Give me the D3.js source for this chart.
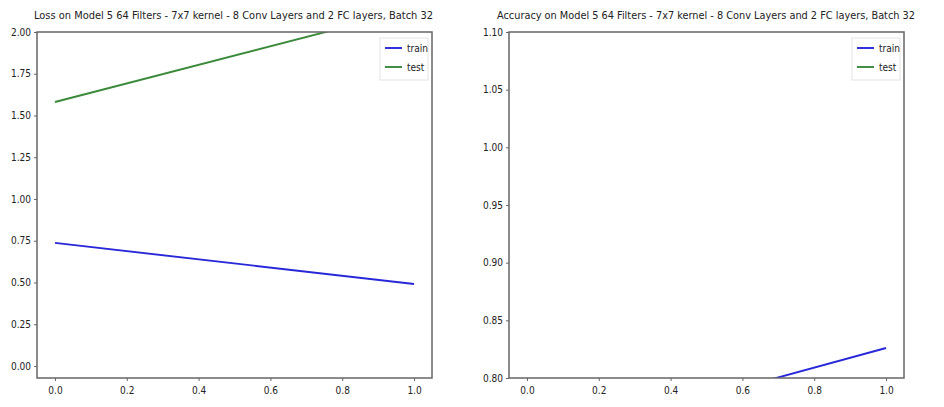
<!DOCTYPE html>
<html>
<head>
<meta charset="utf-8">
<script src="https://cdn.jsdelivr.net/npm/d3@7"></script>
<style>
  html, body { margin: 0; padding: 0; background: #fff; }
  svg { display: block; }
  text { font-family: "DejaVu Sans Condensed", "DejaVu Sans", sans-serif; fill: #222; }
</style>
</head>
<body>
<svg id="chart" width="944" height="407"></svg>
<script>
// ---- data ----
const epochs = [0, 1];
const lossTrain = [0.737, 0.491];
const lossTest = [1.581, 2.137];
const accTrain = [0.741, 0.826];
const accTest = [0.55, 0.60];
const xTicks = [0.0, 0.2, 0.4, 0.6, 0.8, 1.0];
const lossTicks = [0.00, 0.25, 0.50, 0.75, 1.00, 1.25, 1.50, 1.75, 2.00];
const accTicks = [0.80, 0.85, 0.90, 0.95, 1.00, 1.05, 1.10];
const seriesNames = ["train", "test"];
const titles = [
  "Loss on Model 5 64 Filters - 7x7 kernel - 8 Conv Layers and 2 FC layers, Batch 32",
  "Accuracy on Model 5 64 Filters - 7x7 kernel - 8 Conv Layers and 2 FC layers, Batch 32"
];

const svg = d3.select("#chart");
const colors = {train: "#2828d8", test: "#3a8a3a"};

function panel(opts) {
  const {left, right, top, bottom, xDomain, yDomain, yTicks, yFmt, train, test, title, titleX0, titleX1, idx} = opts;
  const x = d3.scaleLinear().domain(xDomain).range([left, right]);
  const y = d3.scaleLinear().domain(yDomain).range([bottom, top]);
  const g = svg.append("g");

  g.append("clipPath").attr("id", "clip" + idx)
    .append("rect").attr("x", left).attr("y", top).attr("width", right - left).attr("height", bottom - top);

  const line = d3.line().x((d, i) => x(epochs[i])).y(d => y(d));
  const plot = g.append("g").attr("clip-path", `url(#clip${idx})`);
  plot.append("path").datum(train).attr("d", line)
    .attr("fill", "none").attr("stroke", colors.train).attr("stroke-width", 1.9);
  plot.append("path").datum(test).attr("d", line)
    .attr("fill", "none").attr("stroke", colors.test).attr("stroke-width", 1.9);

  // frame
  g.append("rect").attr("x", left).attr("y", top).attr("width", right - left).attr("height", bottom - top)
    .attr("fill", "none").attr("stroke", "#666").attr("stroke-width", 1.5);

  const xAxis = d3.axisBottom(x).tickValues(xTicks).tickFormat(d3.format(".1f")).tickSize(3).tickPadding(6);
  const gx = g.append("g").attr("transform", `translate(0,${bottom})`).call(xAxis);
  gx.select(".domain").remove();
  gx.selectAll("line").attr("stroke", "#666");
  gx.selectAll("text").attr("font-size", 10).attr("fill", "#333");

  const yAxis = d3.axisLeft(y).tickValues(yTicks).tickFormat(d3.format(yFmt)).tickSize(3).tickPadding(3);
  const gy = g.append("g").attr("transform", `translate(${left},0)`).call(yAxis);
  gy.select(".domain").remove();
  gy.selectAll("line").attr("stroke", "#666");
  gy.selectAll("text").attr("font-size", 10).attr("fill", "#333");

  g.append("text").attr("x", titleX0).attr("y", 19)
    .attr("textLength", titleX1 - titleX0).attr("lengthAdjust", "spacingAndGlyphs")
    .attr("font-size", 11).attr("fill", "#222").text(title);

  // legend
  const lg = g.append("g").attr("transform", `translate(${right - 52},${top + 6})`);
  lg.append("rect").attr("x", 0).attr("y", 0).attr("width", 48).attr("height", 42)
    .attr("fill", "#fff").attr("stroke", "#ddd").attr("stroke-width", 0.8);
  seriesNames.forEach((n, i) => {
    const yy = 10 + i * 19;
    lg.append("line").attr("x1", 5).attr("x2", 22).attr("y1", yy).attr("y2", yy)
      .attr("stroke", colors[n]).attr("stroke-width", 1.9);
    lg.append("text").attr("x", 27).attr("y", yy + 3.5).attr("font-size", 10).attr("fill", "#333").text(n);
  });
}

panel({idx: 0, left: 37, right: 432, top: 32, bottom: 378,
  xDomain: [-0.05, 1.05], yDomain: [-0.072, 2.0], yTicks: lossTicks, yFmt: ".2f",
  train: lossTrain, test: lossTest, title: titles[0], titleX0: 34, titleX1: 433});
panel({idx: 1, left: 509, right: 904, top: 32, bottom: 378,
  xDomain: [-0.05, 1.05], yDomain: [0.80, 1.10], yTicks: accTicks, yFmt: ".2f",
  train: accTrain, test: accTest, title: titles[1], titleX0: 497, titleX1: 915});
</script>
</body>
</html>
